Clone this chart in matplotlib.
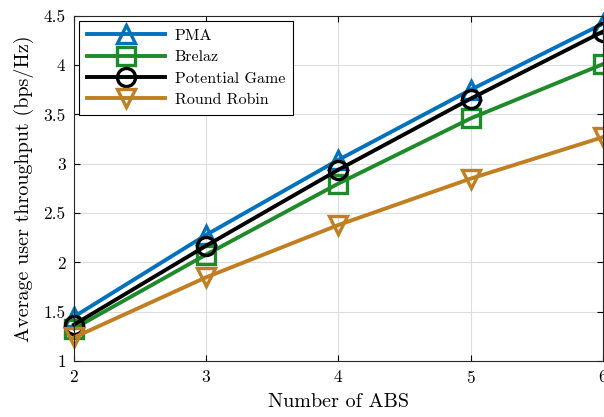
import matplotlib
matplotlib.use('Agg')
import matplotlib.pyplot as plt

plt.rcParams['font.family'] = 'serif'
plt.rcParams['font.serif'] = ['cmr10']
plt.rcParams['mathtext.fontset'] = 'cm'
plt.rcParams['axes.formatter.use_mathtext'] = True

num_abs = [2, 3, 4, 5, 6]
pma = [1.45, 2.28, 3.04, 3.75, 4.42]
brelaz = [1.33, 2.08, 2.80, 3.46, 4.01]
potential = [1.37, 2.17, 2.94, 3.66, 4.34]
round_robin = [1.24, 1.85, 2.38, 2.85, 3.27]

series = [
    ('PMA', pma, '#0072BD', '^'),
    ('Brelaz', brelaz, '#1F8A2A', 's'),
    ('Potential Game', potential, 'black', 'o'),
    ('Round Robin', round_robin, '#BF7F22', 'v'),
]

fig = plt.figure(figsize=(6.04, 4.17), dpi=100)
ax = fig.add_axes([0.1225, 0.134, 0.8755, 0.828])

for name, vals, col, mk in series:
    ax.plot(num_abs, vals, color=col, marker=mk, markersize=13,
            markerfacecolor='none', markeredgewidth=2.4, linewidth=2.8,
            label=name, clip_on=False)

ax.set_xlim(2, 6)
ax.set_ylim(1, 4.5)
ax.set_xticks([2, 3, 4, 5, 6])
ax.set_yticks([1, 1.5, 2, 2.5, 3, 3.5, 4, 4.5])
ax.set_yticklabels(['1', '1.5', '2', '2.5', '3', '3.5', '4', '4.5'])
ax.grid(True, color='#dddddd', linewidth=0.8)
ax.set_axisbelow(True)
ax.tick_params(direction='in', top=True, right=True, labelsize=12.5, length=4)
ax.tick_params(axis='y', pad=6)
ax.tick_params(axis='x', pad=6)
for s in ax.spines.values():
    s.set_linewidth(0.8)
    s.set_color('#262626')

ax.set_xlabel('Number of ABS', fontsize=14.5, labelpad=5)
ax.set_ylabel('Average user throughput (bps/Hz)', fontsize=14.5, labelpad=7)

leg = ax.legend(loc='upper left', fontsize=11.5, fancybox=False, framealpha=1,
                edgecolor='black', handlelength=4.9, borderaxespad=0.3,
                labelspacing=0.45, handletextpad=0.6, borderpad=0.5)
leg.get_frame().set_linewidth(0.8)

fig.savefig('out.png', dpi=100)
